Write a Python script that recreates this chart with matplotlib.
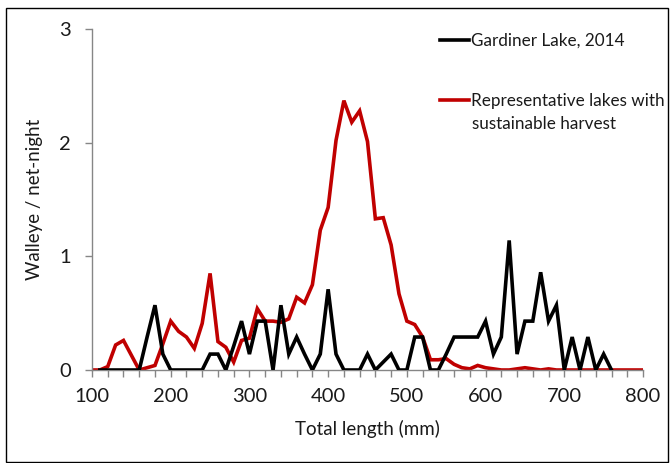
import matplotlib
matplotlib.use("Agg")
import matplotlib.pyplot as plt
from matplotlib.lines import Line2D
from matplotlib.patches import Rectangle

# ---- data ----
gardiner_len = [110, 120, 130, 140, 150, 160, 170, 180, 190, 200, 210, 220, 230, 240,
                250, 260, 270, 280, 290, 300, 310, 320, 330, 340, 350, 360, 370, 380,
                390, 400, 410, 420, 430, 440, 450, 460, 470, 480, 490, 500, 510, 520,
                530, 540, 550, 560, 570, 580, 590, 600, 610, 620, 630, 640, 650, 660,
                670, 680, 690, 700, 710, 720, 730, 740, 750, 760]
gardiner_cpue = [0, 0, 0, 0, 0, 0, 0.29, 0.57, 0.14, 0, 0, 0, 0, 0,
                 0.14, 0.14, 0, 0.21, 0.43, 0.14, 0.43, 0.43, 0, 0.57, 0.14, 0.29, 0.14, 0,
                 0.14, 0.71, 0.14, 0, 0, 0, 0.14, 0, 0.07, 0.14, 0, 0, 0.29, 0.29,
                 0, 0, 0.14, 0.29, 0.29, 0.29, 0.29, 0.43, 0.14, 0.29, 1.14, 0.14, 0.43, 0.43,
                 0.86, 0.43, 0.57, 0, 0.29, 0, 0.29, 0, 0.14, 0]

rep_len = [100, 110, 120, 130, 140, 150, 160, 170, 180, 190, 200, 210, 220, 230, 240,
           250, 260, 270, 280, 290, 300, 310, 320, 330, 340, 350, 360, 370, 380, 390,
           400, 410, 420, 430, 440, 450, 460, 470, 480, 490, 500, 510, 520, 530, 540,
           550, 560, 570, 580, 590, 600, 610, 620, 630, 640, 650, 660, 670, 680, 690,
           700, 710, 720, 730, 740, 750, 760, 770, 780, 790, 800]
rep_cpue = [0, 0, 0.03, 0.22, 0.26, 0.13, 0, 0.02, 0.04, 0.23, 0.43, 0.34, 0.29, 0.19, 0.41,
            0.85, 0.25, 0.2, 0.07, 0.26, 0.28, 0.54, 0.43, 0.43, 0.42, 0.45, 0.64, 0.59, 0.75, 1.23,
            1.43, 2.02, 2.37, 2.18, 2.28, 2.01, 1.33, 1.34, 1.10, 0.67, 0.43, 0.40, 0.29, 0.09, 0.09,
            0.10, 0.05, 0.02, 0.01, 0.04, 0.02, 0.01, 0.0, 0.0, 0.01, 0.02, 0.01, 0.0, 0.01, 0.0,
            0, 0, 0, 0, 0, 0, 0, 0, 0, 0, 0]

x_ticks = [100, 200, 300, 400, 500, 600, 700, 800]
y_ticks = [0, 1, 2, 3]
label_black = "Gardiner Lake, 2014"
label_red_1 = "Representative lakes with"
label_red_2 = "sustainable harvest"

plt.rcParams['font.family'] = ['Lato', 'DejaVu Sans']

W, H = 672, 463
TXT = '#1a1a1a'
fig = plt.figure(figsize=(W / 100, H / 100), dpi=100)
ax = fig.add_axes([92 / W, 1 - 370 / H, (643 - 92) / W, (370 - 29) / H])

RED = '#C00000'
ax.plot(rep_len, rep_cpue, color=RED, lw=2.6, solid_joinstyle='miter', zorder=2)
ax.plot(gardiner_len, gardiner_cpue, color='black', lw=2.6, solid_joinstyle='miter', zorder=3)

ax.set_xlim(100, 800)
ax.set_ylim(0, 3)
ax.set_xticks(x_ticks)
ax.set_xticks(range(100, 801, 20), minor=True)
ax.set_yticks(y_ticks)

for s in ['top', 'right']:
    ax.spines[s].set_visible(False)
for s in ['left', 'bottom']:
    ax.spines[s].set_color('#868686')
    ax.spines[s].set_linewidth(1.0)

ax.tick_params(axis='both', which='both', direction='out', color='#868686',
               length=5, width=1, labelsize=14.5, labelcolor=TXT)
ax.tick_params(axis='x', pad=8)
ax.tick_params(axis='y', pad=10)

ax.set_xlabel("Total length (mm)", fontsize=13.5, color=TXT, labelpad=11)
ax.set_ylabel("Walleye / net-night", fontsize=13.5, color=TXT, labelpad=12)

handles = [Line2D([], [], color='black', lw=2.6), Line2D([], [], color=RED, lw=2.6)]
leg = ax.legend(handles, [label_black, label_red_1], loc='upper left',
                bbox_to_anchor=(440 / W, 1 - 33 / H), bbox_transform=fig.transFigure,
                frameon=False, fontsize=12.3, handlelength=1.7, handletextpad=0.1,
                labelspacing=2.55, borderpad=0, borderaxespad=0)
for t in leg.get_texts():
    t.set_color(TXT)
fig.text(472 / W, 1 - 124 / H, label_red_2, fontsize=12.3, color=TXT,
         va='center', ha='left')

fig.patches.append(Rectangle((6 / W, 1 / H), (668 - 6) / W, (455 - 1) / H,
                             transform=fig.transFigure, fill=False,
                             edgecolor='black', lw=1.0))

fig.savefig("out.png", dpi=100)
